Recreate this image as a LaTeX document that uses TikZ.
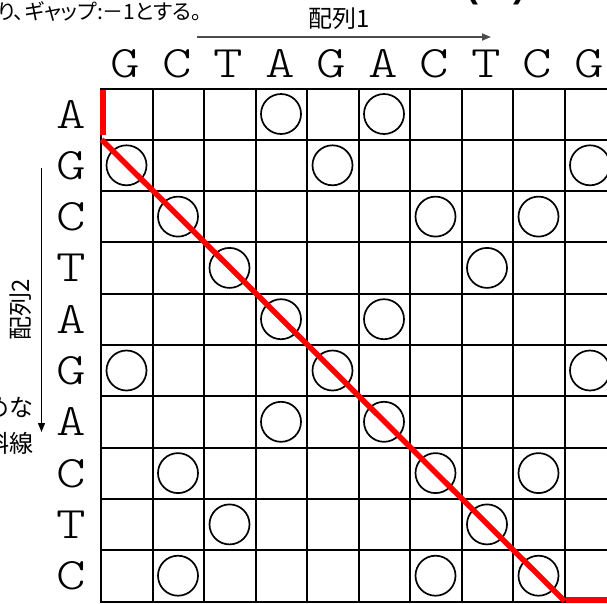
\documentclass[tikz,border=0pt]{standalone}
\usepackage{fontspec}
\newfontfamily\jpfont[RawFeature=+palt]{Noto Sans CJK JP}
\newfontfamily\jpfull{Noto Sans CJK JP}
\newfontfamily\parenfont{Liberation Sans}
\newfontfamily\seqfont{Latin Modern Mono Light}
\usetikzlibrary{arrows.meta}
\tikzset{
  gridline/.style={line width=2pt, black},
  seqletter/.style={font=\seqfont\fontsize{45}{45}\selectfont, inner sep=0pt},
  matchmark/.style={circle, draw=black, line width=1.7pt, minimum size=40pt, inner sep=0pt},
  pathline/.style={draw=red, line width=5.5pt},
  seqarrow/.style={line width=1.8pt, draw=black!70, -{Triangle[length=9pt,width=7pt]}},
  jplabel/.style={font=\jpfont\fontsize{24}{24}\selectfont, inner sep=0pt},
  sidetext/.style={font=\jpfull\fontsize{24}{24}\selectfont, inner sep=0pt, anchor=east},
}
\newcommand{\wideletter}[1]{\scalebox{1.25}[1]{#1}}
\begin{document}
\begin{tikzpicture}[x=1pt,y=-1pt]
\useasboundingbox (0,0) rectangle (607,603);
\clip (0,0) rectangle (607,603);
\fill[white] (0,0) rectangle (607,603);

% top text (partly cut off)
\node[font=\jpfont\fontsize{21}{21}\selectfont, inner sep=0pt, anchor=east] (note) at (202,11) {り、ギャップ:－1とする。};
\node[font=\parenfont\bfseries\fontsize{36}{36}\selectfont, inner sep=0pt, anchor=base west] (title) at (466.5,-2.5) {(\hspace{35pt})};

% sequence 1 label and arrow
\node[jplabel] (lab1) at (339,19) {配列1};
\coordinate (a1s) at (197,37);
\coordinate (a1e) at (491,37);
\draw[seqarrow] (a1s) -- (a1e);

% sequence 2 label and arrow
\node[jplabel, rotate=90] (lab2) at (21,310) {配列2};
\coordinate (a2s) at (41.5,168);
\coordinate (a2e) at (41.5,432);
\draw[seqarrow, draw=black, line width=1.2pt] (a2s) -- (a2e);

% partial side texts
\node[sidetext] (side1) at (34,407) {めな};
\node[sidetext] (side2) at (34,443) {斜線};

% column letters
\foreach \ch [count=\i from 0] in {G,C,T,A,G,A,C,T,C,G}
  \node[seqletter] (top\i) at ({101+51.5*\i+24.5},63.5) {\wideletter{\ch}};
% row letters
\foreach \ch [count=\j from 0] in {A,G,C,T,A,G,A,C,T,C}
  \node[seqletter] (left\j) at (71,{88.5+51.3*\j+25.65}) {\wideletter{\ch}};

% grid
\foreach \i in {0,...,10}
  \draw[gridline] ({101+51.5*\i},88.5) -- ({101+51.5*\i},601.5);
\foreach \j in {0,...,10}
  \draw[gridline] (100,{88.5+51.3*\j}) -- (620,{88.5+51.3*\j});

% match circles
\foreach \r/\c in {0/3,0/5,1/0,1/4,1/9,2/1,2/6,2/8,3/2,3/7,4/3,4/5,5/0,5/4,5/9,6/3,6/5,7/1,7/6,7/8,8/2,8/7,9/1,9/6,9/8}
  \node[matchmark] (m\r-\c) at ({101+51.5*\c+25.5},{88.5+51.3*\r+25.5}) {};

% alignment path
\coordinate (p0) at (103,89.5);
\coordinate (p1) at (103,134.5);
\coordinate (p2) at (101.5,139.5);
\coordinate (p3) at (564.5,601);
\coordinate (p4) at (566,600.2);
\coordinate (p5) at (610,600.2);
\draw[pathline] (p0) -- (p1);
\draw[pathline] (p2) -- (p3);
\draw[pathline] (p4) -- (p5);
\end{tikzpicture}
\end{document}
